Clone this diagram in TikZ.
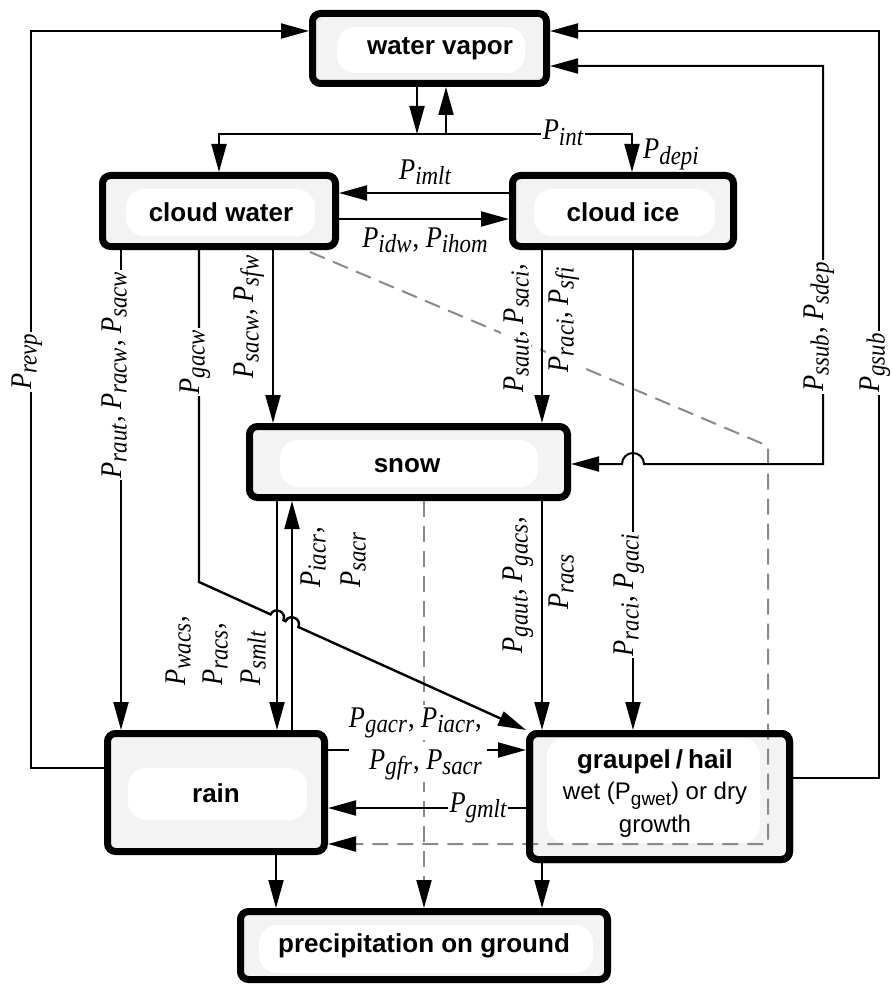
\documentclass[tikz,border=0pt]{standalone}
\usepackage{fontspec}
\setmainfont{Liberation Serif}
\setsansfont{Liberation Sans}
\newfontfamily\labfont{Liberation Serif}[FakeStretch=0.88]
\usetikzlibrary{arrows.meta}
\definecolor{boxgray}{HTML}{F3F3F3}
\definecolor{dashgray}{HTML}{8A8A8A}
\newcommand{\Pq}[1]{\textit{P\raisebox{-5.5pt}{\fontsize{26}{26}\selectfont #1}}}
\newcommand{\pc}{\kern1pt,}
\begin{document}
\begin{tikzpicture}[x=1pt,y=-1pt,>={Triangle[length=28pt,width=15pt]},
  box/.style={draw,line width=7pt,rounded corners=8pt,fill=boxgray,inner sep=0pt},
  boxframe/.style={draw,line width=7pt,rounded corners=8pt,inner sep=0pt},
  pill/.style={fill=white,rounded corners=18pt},
  boxtitle/.style={font=\sffamily\bfseries\fontsize{26}{30}\selectfont,inner sep=0pt},
  boxtext/.style={font=\sffamily\fontsize{24}{28}\selectfont,inner sep=0pt},
  lab/.style={font=\labfont\fontsize{30}{34}\selectfont,inner sep=2pt},
  cutlab/.style={lab,fill=white},
  vlab/.style={lab,rotate=90},
  vcut/.style={cutlab,rotate=90},
  wire/.style={line width=2pt},
  conn/.style={wire,->},
  dashline/.style={line width=2pt,dashgray,dash pattern=on 16pt off 9pt,-{Triangle[length=28pt,width=15pt,color=black,fill=black]}}
]
\useasboundingbox (0,0) rectangle (891,987);

% helper coordinates
\coordinate (v121) at (121,0); \coordinate (v199) at (199,0); \coordinate (v219) at (219,0);
\coordinate (v273) at (273,0); \coordinate (v276) at (276,0); \coordinate (v277) at (277,0);
\coordinate (v292) at (292,0); \coordinate (v417) at (417,0); \coordinate (v424) at (424,0);
\coordinate (v446) at (446,0); \coordinate (v542) at (542,0); \coordinate (v632) at (632,0);
\coordinate (v633) at (633,0);
\coordinate (h31) at (0,31); \coordinate (h66) at (0,66); \coordinate (h193) at (0,193);
\coordinate (h219) at (0,219); \coordinate (h464) at (0,464); \coordinate (h750) at (0,750);
\coordinate (h768) at (0,768); \coordinate (h778) at (0,778); \coordinate (h808) at (0,808);

% boxes
\node[box,minimum width=234pt,minimum height=70pt] (wv) at (429.5,48.5) {};
\node[box,minimum width=233pt,minimum height=71pt] (cw) at (219,211) {};
\node[box,minimum width=221pt,minimum height=71pt] (ci) at (623,211) {};
\node[box,minimum width=318pt,minimum height=71pt] (sn) at (408.5,462) {};
\node[box,minimum width=217pt,minimum height=118pt] (rn) at (216,792.5) {};
\node[box,minimum width=260pt,minimum height=126pt] (gr) at (659.5,796.5) {};
\node[box,minimum width=367pt,minimum height=68pt] (pr) at (424,945.5) {};

\fill[pill] (337,27) rectangle (525,73);
\fill[pill] (126,189) rectangle (315,236);
\fill[pill] (534,189) rectangle (715,236);
\fill[pill] (280,440) rectangle (538,487);
\fill[pill] (128,768) rectangle (307,820);
\fill[pill] (547,738) rectangle (760,843);
\fill[pill] (259,925) rectangle (593,973);

\node[boxtitle,anchor=base] (wvt) at (440,55) {water vapor};
\node[boxtitle,anchor=base] (cwt) at (221,221) {cloud water};
\node[boxtitle,anchor=base] (cit) at (623,221) {cloud ice};
\node[boxtitle,anchor=base] (snt) at (407,472) {snow};
\node[boxtitle,anchor=base] (rnt) at (216,802) {rain};
\node[boxtitle,anchor=base] (grt1) at (655,768) {graupel\hspace{5pt}/\hspace{5pt}hail};
\node[boxtext,anchor=base] (grt2) at (655,799) {wet (P\raisebox{-6pt}{\fontsize{19}{19}\selectfont gwet}) or dry};
\node[boxtext,anchor=base] (grt3) at (655,832) {growth};
\node[boxtitle,anchor=base] (prt) at (424,952) {precipitation on ground};

% dashed paths
\coordinate (dstart) at (310,252);
\coordinate (dc1) at (768,446);
\coordinate (dc2) at (768,844);
\draw[dashline] (dstart) -- (dc1) -- (dc2) -- (rn.east |- dc2);
\draw[dashline] (sn.south -| v424) -- (pr.north -| v424);
\node[boxframe,minimum width=260pt,minimum height=126pt] (grf) at (gr) {};

% side labels
\node[vlab,fill=white,anchor=base] (lsaut) at (523,328) {\Pq{saut}\pc\ \Pq{saci}\pc};
\node[vlab,fill=white,anchor=base] (lraci) at (568,320) {\Pq{raci}\pc\ \Pq{sfi}};
\node[lab,fill=white,anchor=base east] (lgacr1) at (484,727) {\Pq{gacr}\pc\ \Pq{iacr}\pc};
\node[lab,fill=white,anchor=base east] (lgacr2) at (484,769) {\Pq{gfr}\pc\ \Pq{sacr}};
\node[vlab,anchor=base] (lsacw) at (253,317) {\Pq{sacw}\pc\ \Pq{sfw}};
\node[vlab,anchor=base west] (lwacs) at (185,688) {\Pq{wacs}\pc};
\node[vlab,anchor=base west] (lracs) at (222,688) {\Pq{racs}\pc};
\node[vlab,anchor=base west] (lsmlt) at (260,688) {\Pq{smlt}};
\node[vlab,anchor=base west] (liacr) at (320,590) {\Pq{iacr}\pc};
\node[vlab,anchor=base west] (lsacr) at (360,590) {\Pq{sacr}};
\node[vlab,anchor=base] (lgaut) at (522,585) {\Pq{gaut}\pc\ \Pq{gacs}\pc};
\node[vlab,anchor=base] (lracs2) at (568,582) {\Pq{racs}};
\node[lab,anchor=base] (limlt) at (425,179) {\Pq{imlt}};
\node[lab,anchor=base] (lidw) at (425,247) {\Pq{idw}\pc\ \Pq{ihom}};
\node[lab,anchor=base west] (ldepi) at (641,159) {\Pq{depi}};

% solid connectors
\draw[conn] (rn.west |- h768) -- (31,768) -- (31,31) -- (wv.west |- h31);
\draw[conn] (gr.east |- h778) -- (879,778) -- (879,31) -- (wv.east |- h31);
\draw[wire,<->] (wv.east |- h66) -- (823,66) -- (823,464) -- (644,464)
   arc[start angle=0,end angle=180,radius=11pt] -- (sn.east |- h464);
\draw[conn] (wv.south -| v417) -- (417,134);
\draw[conn] (446,134) -- (wv.south -| v446);
\draw[conn] (632,134) -- (219,134) -- (cw.north -| v219);
\draw[conn] (219,134) -- (632,134) -- (ci.north -| v632);
\draw[conn] (ci.west |- h193) -- (cw.east |- h193);
\draw[conn] (cw.east |- h219) -- (ci.west |- h219);
\draw[conn] (cw.south -| v121) -- (rn.north -| v121);
\draw[conn] (cw.south -| v273) -- (sn.north -| v273);
\draw[conn] (ci.south -| v542) -- (sn.north -| v542);
\draw[conn] (ci.south -| v633) -- (gr.north -| v633);
\draw[conn] (sn.south -| v277) -- (rn.north -| v277);
\draw[conn] (rn.north -| v292) -- (sn.south -| v292);
\draw[conn] (sn.south -| v542) -- (gr.north -| v542);
\draw[wire] (rn.east |- h750) -- (349,750);
\draw[conn] (487,750) -- (gr.west |- h750);
\draw[conn] (gr.west |- h808) -- (rn.east |- h808);
\draw[conn] (rn.south -| v276) -- (pr.north -| v276);
\draw[conn] (gr.south -| v542) -- (pr.north -| v542);
\draw[conn,line width=2.4pt] (cw.south -| v199) -- (199,582) -- (270.6,614.4)
   .. controls (274.3,606.2) and (287.1,612.0) .. (283.4,620.2) -- (285.6,621.2)
   .. controls (289.3,613.0) and (302.1,618.8) .. (298.4,627.0) -- (gr.north west);

% labels cutting connectors
\node[vcut,anchor=base] (lrevp) at (31,362) {\Pq{revp}};
\node[vcut,anchor=base] (lraut) at (121,375) {\Pq{raut}\pc\ \Pq{racw}\pc\ \Pq{sacw}};
\node[vcut,anchor=base] (lgacw) at (199,362) {\Pq{gacw}};
\node[vcut,anchor=base] (lssub) at (823,327) {\Pq{ssub}\pc\ \Pq{sdep}};
\node[vcut,anchor=base] (lgsub) at (879,363) {\Pq{gsub}};
\node[vcut,anchor=base] (lgaci) at (633,595) {\Pq{raci}\pc\ \Pq{gaci}};
\node[cutlab,anchor=base] (lint) at (563,140) {\Pq{int}};
\node[cutlab,anchor=base] (lgmlt) at (478,812) {\Pq{gmlt}};
\end{tikzpicture}
\end{document}
